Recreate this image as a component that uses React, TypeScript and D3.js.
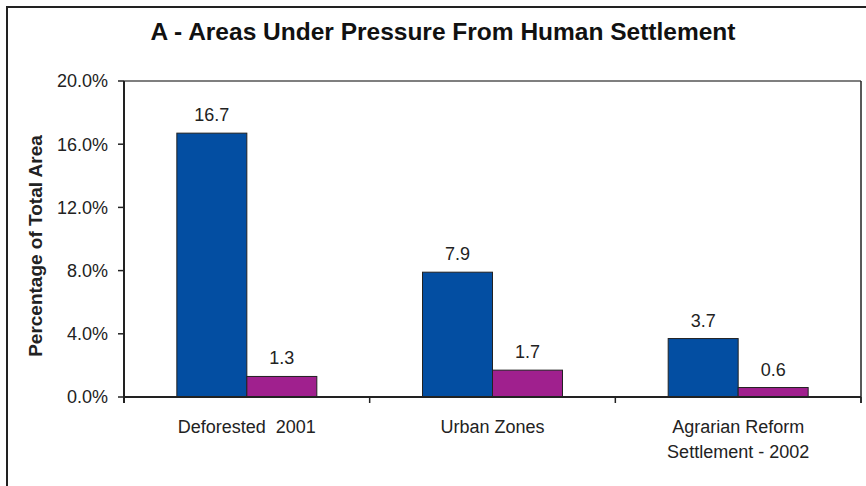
import React from "react";
import * as d3 from "d3";

const categories: string[][] = [["Deforested  2001"], ["Urban Zones"], ["Agrarian Reform", "Settlement - 2002"]];
const seriesNames = ["A", "B"];
const seriesA = [16.7, 7.9, 3.7];
const seriesB = [1.3, 1.7, 0.6];
const yTicks = [0, 4, 8, 12, 16, 20];
const colors = ["#034ea2", "#a0208e"];
const title = "A - Areas Under Pressure From Human Settlement";
const yTitle = "Percentage of Total Area";

export default function App() {
  const W = 866, H = 486;
  const left = 124, right = 861, top = 81, bottom = 397;
  const font = "Liberation Sans, Arial, sans-serif";
  const keys = categories.map((c) => c.join(" "));
  const x0 = d3.scaleBand<string>().domain(keys).range([left, right]).padding(0);
  const x1 = d3.scaleBand<string>().domain(seriesNames).range([0, x0.bandwidth()]).paddingInner(0).paddingOuter(0.755);
  const y = d3.scaleLinear().domain([0, 20]).range([bottom, top]);
  const series = [seriesA, seriesB];
  const boundaries = [...keys.map((k) => x0(k) as number), right];

  return (
    <svg width={W} height={H} style={{ position: "absolute", left: 0, top: 0, background: "#fff" }} fontFamily={font}>
      <rect x={0} y={0} width={W} height={H} fill="#fff" />
      <rect x={7} y={7} width={W + 10} height={H + 10} fill="none" stroke="#222" strokeWidth={2} />
      <text x={443} y={40} textAnchor="middle" fontSize={24.5} fontWeight="bold" fill="#111">{title}</text>
      {/* plot border */}
      <line x1={left} x2={right} y1={top} y2={top} stroke="#555" strokeWidth={1.5} />
      <line x1={right} x2={right} y1={top} y2={bottom + 6} stroke="#222" strokeWidth={1.5} />
      {/* bars */}
      {keys.map((k, i) =>
        series.map((s, j) => {
          const bx = (x0(k) as number) + (x1(seriesNames[j]) as number);
          const by = y(s[i]);
          return (
            <g key={k + j}>
              <rect x={bx} y={by} width={x1.bandwidth()} height={bottom - by} fill={colors[j]} stroke="#222" strokeWidth={1} />
              <text x={bx + x1.bandwidth() / 2} y={by - 12} textAnchor="middle" fontSize={18} fill="#222">{s[i].toFixed(1)}</text>
            </g>
          );
        })
      )}
      {/* y axis */}
      <line x1={left} x2={left} y1={top} y2={bottom + 6} stroke="#222" strokeWidth={2} />
      {yTicks.map((t) => (
        <g key={t}>
          <line x1={left - 6} x2={left} y1={y(t)} y2={y(t)} stroke="#222" strokeWidth={1.5} />
          <text x={left - 16} y={y(t)} dy="0.35em" textAnchor="end" fontSize={18} fill="#222">{t.toFixed(1) + "%"}</text>
        </g>
      ))}
      {/* x axis */}
      <line x1={left} x2={right} y1={bottom} y2={bottom} stroke="#222" strokeWidth={2} />
      {boundaries.map((b, i) => (
        <line key={i} x1={b} x2={b} y1={bottom} y2={bottom + 6} stroke="#222" strokeWidth={1.5} />
      ))}
      {categories.map((lines, i) => (
        <text key={i} x={(x0(keys[i]) as number) + x0.bandwidth() / 2} y={433} textAnchor="middle" fontSize={18} fill="#222" style={{ whiteSpace: "pre" }}>
          {lines.map((l, li) => (
            <tspan key={li} x={(x0(keys[i]) as number) + x0.bandwidth() / 2} dy={li === 0 ? 0 : 25}>{l}</tspan>
          ))}
        </text>
      ))}
      <text transform={`translate(42,246) rotate(-90)`} textAnchor="middle" fontSize={19} fontWeight="bold" fill="#222">{yTitle}</text>
    </svg>
  );
}
